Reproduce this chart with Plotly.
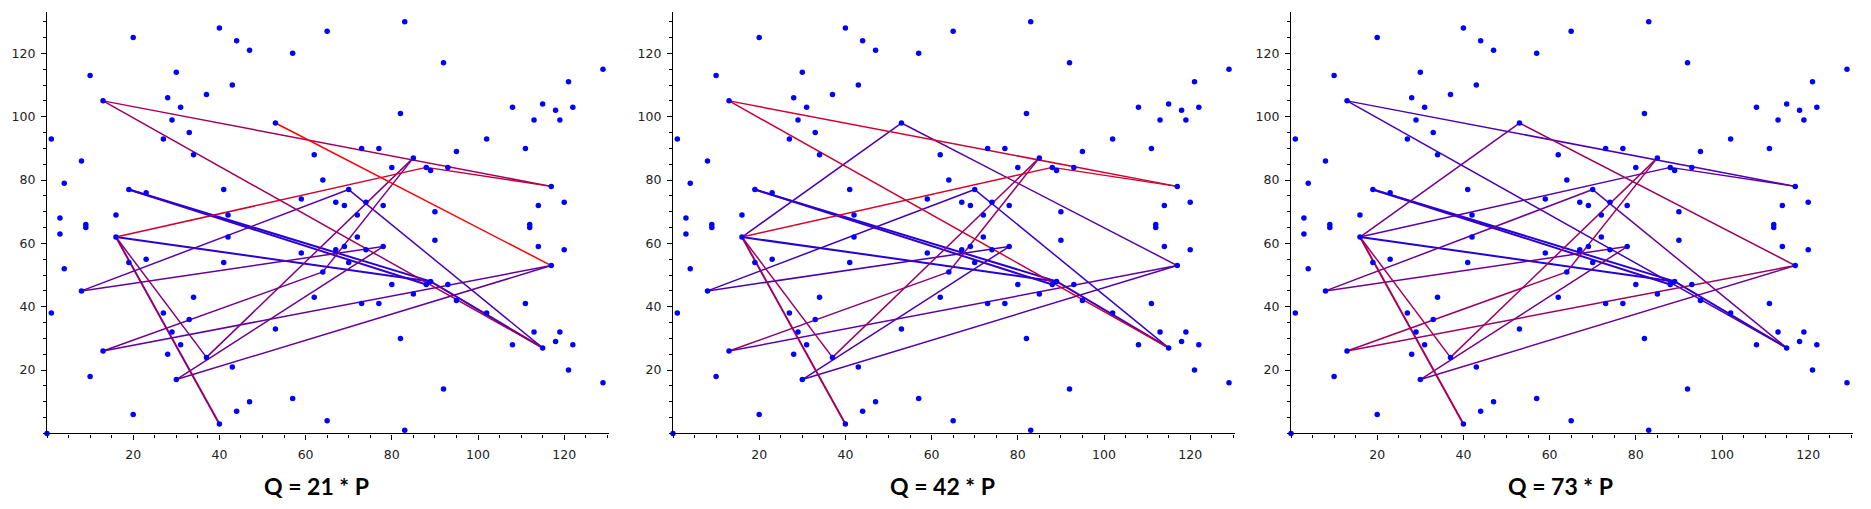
import plotly.graph_objects as go
from plotly.subplots import make_subplots

# points of the curve (x with its upper and lower y)
curve_x = [1, 3, 4, 8, 9, 10, 13, 16, 19, 20, 23, 27, 28, 29, 30, 31, 33, 34, 37, 40,
           41, 42, 43, 44, 47, 53, 57, 59, 62, 64, 65, 67, 69, 70, 72, 73, 74, 77, 78, 80,
           82, 83, 85, 88, 89, 90, 92, 93, 95, 102, 108, 111, 112, 113, 114, 115, 117, 118, 119, 120,
           121, 122, 129]
curve_y_hi = [93, 68, 79, 86, 66, 113, 105, 69, 77, 125, 76, 93, 106, 99, 114, 103, 95, 88, 107, 128,
              77, 69, 110, 124, 121, 98, 120, 74, 88, 80, 127, 73, 72, 77, 69, 90, 73, 90, 72, 84,
              101, 130, 87, 84, 83, 70, 117, 84, 89, 93, 103, 90, 66, 99, 72, 104, 78, 102, 99, 73,
              111, 103, 115]
curve_y_lo = [38, 63, 52, 45, 65, 18, 26, 62, 54, 6, 55, 38, 25, 32, 17, 28, 36, 43, 24, 3,
              54, 62, 21, 7, 10, 33, 11, 57, 43, 51, 4, 58, 59, 54, 62, 41, 58, 41, 59, 47,
              30, 1, 44, 47, 48, 61, 14, 47, 42, 38, 28, 41, 65, 32, 59, 27, 53, 29, 32, 58,
              20, 28, 16]
origin = (0, 0)

# segments joining the multiples
seg_x0 = [13, 13, 53, 53, 16, 88, 19, 19, 16, 89, 70, 8, 8, 16, 16, 13, 13, 64, 37, 30, 30]
seg_y0 = [105, 105, 98, 98, 62, 84, 77, 77, 62, 48, 77, 45, 45, 62, 62, 26, 26, 51, 24, 17, 17]
seg_x1 = [117, 115, 117, 16, 88, 117, 89, 88, 89, 115, 115, 70, 78, 37, 40, 117, 64, 85, 85, 78, 117]
seg_y1 = [78, 27, 53, 62, 84, 78, 48, 47, 48, 27, 27, 77, 59, 24, 3, 53, 51, 87, 87, 59, 53]

# position of each segment on the blue -> red ramp, per chart (None = not drawn)
ramp_21 = [0.65, 0.62, 1.0, None, 0.82, 0.75, 0.15, 0.2, 0.18, 0.3, 0.3, 0.35, 0.4, 0.5, 0.55,
           0.38, 0.45, 0.48, 0.48, 0.42, 0.4]
ramp_42 = [0.82, 0.8, 0.35, 0.3, 0.85, 0.83, 0.15, 0.2, 0.15, 0.25, 0.2, 0.25, 0.3, 0.6, 0.62,
           0.38, 0.55, 0.6, 0.6, 0.3, 0.32]
ramp_73 = [0.3, 0.28, 0.6, 0.45, 0.35, 0.38, 0.15, 0.2, 0.15, 0.2, 0.42, 0.42, 0.45, 0.65, 0.65,
           0.62, 0.62, 0.6, 0.62, 0.45, 0.42]

titles = ["Q = 21 * P", "Q = 42 * P", "Q = 73 * P"]
ramps = [ramp_21, ramp_42, ramp_73]

# the page body has an 8px margin, so the figure is drawn 8px in from the window corner
OFF = 8
W, H = 1871 - 2 * OFF, 509 - 2 * OFF
x_origin_px = [47 - OFF, 673 - OFF, 1291 - OFF]   # where x = 0 sits in each panel
x_scale = 4.31                                   # px per unit
x_max = 130.5
y_bottom = (H - (433.4 - OFF)) / H
y_top = (H - (12.2 - OFF)) / H
title_y = (H - (485.5 - OFF)) / H

pts_x = [origin[0]] + curve_x + curve_x
pts_y = [origin[1]] + curve_y_hi + curve_y_lo

thick = {6, 7, 8, 9, 14}


def ramp_color(t):
    return 'rgb(%d,0,%d)' % (round(255 * t), round(255 * (1 - t)))


fig = make_subplots(rows=1, cols=3)

for c in range(3):
    ramp = ramps[c]
    order = sorted([i for i in range(len(ramp)) if ramp[i] is not None], key=lambda i: ramp[i])
    for i in order:
        fig.add_trace(go.Scatter(x=[seg_x0[i], seg_x1[i]], y=[seg_y0[i], seg_y1[i]],
                                 mode='lines', hoverinfo='skip',
                                 line=dict(color=ramp_color(ramp[i]),
                                           width=2.0 if i in thick else 1.5),
                                 cliponaxis=False),
                      row=1, col=c + 1)
    fig.add_trace(go.Scatter(x=pts_x, y=pts_y, mode='markers',
                             marker=dict(color='#0000ff', size=5.5, line_width=0),
                             cliponaxis=False),
                  row=1, col=c + 1)

    d0 = x_origin_px[c] / W
    d1 = (x_origin_px[c] + x_max * x_scale) / W
    fig.update_xaxes(domain=[d0, d1], range=[0, x_max], row=1, col=c + 1)
    fig.update_yaxes(domain=[y_bottom, y_top], range=[0, 133], row=1, col=c + 1)

    fig.add_annotation(text="<b>%s</b>" % titles[c], xref='paper', yref='paper',
                       x=(x_origin_px[c] + 269) / W, y=title_y,
                       xanchor='center', yanchor='middle', showarrow=False,
                       font=dict(family='Lato', size=23, color='black'))

tick_font = dict(family='DejaVu Sans', size=12.5, color='#222')
fig.update_xaxes(showline=True, linecolor='black', linewidth=1.2, showgrid=False, zeroline=False,
                 ticks='outside', ticklen=5, tickwidth=1, tickcolor='black',
                 tickmode='array', tickvals=[20, 40, 60, 80, 100, 120], tickfont=tick_font,
                 ticklabelstandoff=4,
                 minor=dict(ticks='outside', ticklen=3, tickcolor='black', tickwidth=1,
                            tickmode='array', tickvals=list(range(0, 131, 5)), showgrid=False))
fig.update_yaxes(showline=True, linecolor='black', linewidth=1.2, showgrid=False, zeroline=False,
                 ticks='outside', ticklen=5, tickwidth=1, tickcolor='black',
                 tickmode='array', tickvals=[20, 40, 60, 80, 100, 120], tickfont=tick_font,
                 ticklabelstandoff=3,
                 minor=dict(ticks='outside', ticklen=3, tickcolor='black', tickwidth=1,
                            tickmode='array', tickvals=list(range(0, 131, 5)), showgrid=False))

fig.update_layout(width=W, height=H, showlegend=False,
                  margin=dict(l=0, r=0, t=0, b=0),
                  plot_bgcolor='white', paper_bgcolor='white')

fig.write_html("out.html")
